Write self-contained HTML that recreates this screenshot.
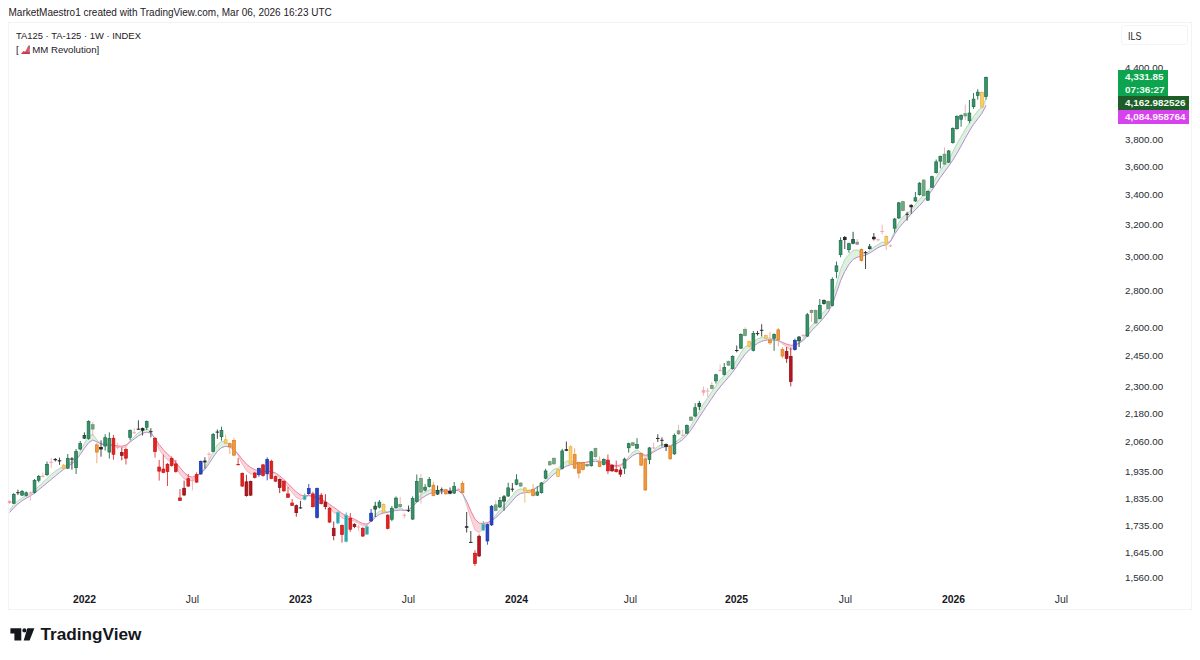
<!DOCTYPE html>
<html lang="en">
<head>
<meta charset="utf-8">
<title>TA125 chart</title>
<style>
html,body{margin:0;padding:0;background:#fff;}
body{width:1200px;height:660px;position:relative;overflow:hidden;font-family:"Liberation Sans",sans-serif;color:#1c1e26;}
.abs{position:absolute;white-space:nowrap;}
#hdr{left:8.5px;top:6.1px;font-size:10px;line-height:14px;color:#1e2026;}
#frame{left:8px;top:22px;width:1184px;height:588px;border:1px solid #f2f3f7;box-sizing:border-box;}
#leg1{left:16px;top:28.9px;font-size:9.8px;line-height:13px;color:#1e2026;transform:scaleX(0.96);transform-origin:0 0;}
#leg2{left:16px;top:42.9px;font-size:9.8px;line-height:13px;color:#1e2026;transform:scaleX(0.985);transform-origin:0 0;}
#ils{left:1121px;top:25px;width:67px;height:20px;border:1px solid #f3f4f7;border-radius:3px;box-sizing:border-box;font-size:10.2px;line-height:22.6px;padding-left:6.3px;color:#1c1e26;}
.pl{position:absolute;left:1125px;font-size:9.8px;line-height:14px;color:#2a2c33;white-space:nowrap;}
.tl{position:absolute;top:592.8px;width:60px;text-align:center;font-size:10.4px;line-height:14px;color:#2a2c33;white-space:nowrap;}
.tl.b{font-weight:bold;color:#15171d;}
.tag{position:absolute;left:1118px;color:#f2fff2;font-size:9.9px;font-weight:bold;box-sizing:border-box;padding-left:7px;white-space:nowrap;}
#tag1{top:70px;width:50px;height:26px;background:#0ca44e;line-height:12.5px;padding-top:1px;}
#tag2{top:96px;width:70.5px;height:13.5px;background:#1e5c28;line-height:13.5px;}
#tag3{top:109.5px;width:70.5px;height:14px;background:#d643ee;line-height:13.5px;color:#fff2ff;}
#logo{left:10px;top:628px;}
#tvtext{left:40.5px;top:622px;font-size:17.2px;line-height:24px;font-weight:bold;color:#15171d;letter-spacing:0px;}
svg{position:absolute;left:0;top:0;}
</style>
</head>
<body>
<div id="hdr" class="abs">MarketMaestro1 created with TradingView.com, Mar 06, 2026 16:23 UTC</div>
<div id="frame" class="abs"></div>
<svg width="1200" height="660" viewBox="0 0 1200 660">
<polygon points="9.6,510.02 13.75,504.77 17.91,500.75 22.06,497.72 26.22,495.74 30.38,493.89 34.53,490.49 38.69,486.28 42.84,482.57 47,478.38 51.15,474.57 55.31,471.13 59.46,468.44 63.62,466.75 67.77,463.94 71.92,461.67 76.08,458.1 80.23,451.01 84.39,443.4 88.55,436.71 92.7,434.25 96.86,439.91 101.01,443.53 105.17,443.84 109.32,444.27 113.47,445.65 113.47,445.25 109.32,444.9 105.17,444.71 101.01,444.03 96.86,441.74 92.7,440.08 88.55,442.8 84.39,448.37 80.23,454.59 76.08,460.19 71.92,463.71 67.77,466.51 63.62,469.4 59.46,472.64 55.31,476.06 51.15,479.49 47,482.92 42.84,486.36 38.69,489.78 34.53,493.07 30.38,495.89 26.22,498.24 22.06,500.72 17.91,503.95 13.75,507.77 9.6,512.52" fill="#dcf1de"/>
<polygon points="113.47,445.65 117.63,446.23 121.78,447.59 125.94,447 130.09,440.95 130.09,442.04 125.94,445.09 121.78,446.24 117.63,445.86 113.47,445.25" fill="#fbd5dc"/>
<polygon points="130.09,440.95 134.25,436.46 138.41,432.61 142.56,430.56 146.72,428.93 150.87,431.42 155.03,439.38 155.03,438.42 150.87,433.31 146.72,432.12 142.56,433.42 138.41,435.99 134.25,438.91 130.09,442.04" fill="#dcf1de"/>
<polygon points="155.03,439.38 159.18,449.41 163.34,455.34 167.49,460 171.65,462.12 175.8,466.05 179.96,474.21 184.11,478.89 188.27,480.55 192.42,480.43 196.58,477.48 200.73,472.46 200.73,473.1 196.58,475.58 192.42,477.21 188.27,476.06 184.11,472.54 179.96,467.59 175.8,462.46 171.65,457.97 167.49,454.03 163.34,449.89 159.18,444.56 155.03,438.42" fill="#fbd5dc"/>
<polygon points="200.73,472.46 204.89,467.55 209.04,460.36 213.19,451.65 217.35,444.82 221.5,441.23 225.66,441.77 229.81,444.63 233.97,448.66 238.12,455.45 238.12,454.03 233.97,449.61 229.81,447.01 225.66,446.34 221.5,447.64 217.35,451.35 213.19,457.07 209.04,463.6 204.89,469.57 200.73,473.1" fill="#dcf1de"/>
<polygon points="238.12,455.45 242.28,464.05 246.44,470.65 250.59,474.08 254.75,473.83 258.9,472.92 263.06,472.2 267.21,470.89 267.21,471.25 263.06,471.2 258.9,470.93 254.75,469.64 250.59,467.37 246.44,464.16 242.28,459.35 238.12,454.03" fill="#fbd5dc"/>
<polygon points="267.21,470.89 271.37,471.64 275.52,474.08 275.52,473.03 271.37,471.66 267.21,471.25" fill="#dcf1de"/>
<polygon points="275.52,474.08 279.68,477.97 283.83,482.06 287.99,487.04 292.14,492.43 296.3,497.39 300.45,499.56 304.61,498.2 308.76,495.77 312.92,497.2 317.07,498.32 321.23,500.08 325.38,502.61 329.54,507.34 333.69,512.54 337.85,513.82 342,518.17 346.16,519.01 350.31,519.94 354.47,521.28 358.62,523.36 362.78,526.02 366.93,525.73 371.09,520.9 371.09,521.52 366.93,524.06 362.78,523.67 358.62,521.46 354.47,519.13 350.31,517.36 346.16,515.66 342,513.41 337.85,510.23 333.69,507.22 329.54,504.37 325.38,501.43 321.23,499.23 317.07,497.56 312.92,496.11 308.76,495.43 304.61,495.75 300.45,495.02 296.3,491.94 292.14,487.95 287.99,483.68 283.83,479.39 279.68,475.72 275.52,473.03" fill="#fbd5dc"/>
<polygon points="371.09,520.9 375.24,515.14 379.4,510.97 383.55,510.46 387.71,512.02 391.86,510.56 396.02,508.2 400.17,507.72 404.33,509.87 408.48,509.66 412.64,505.54 416.79,498.75 420.95,494.48 425.1,492.22 429.26,489.73 433.41,490.02 437.57,490.49 441.72,490.77 445.88,490.96 450.03,490.67 454.19,489.8 458.34,490.13 462.5,493.26 466.65,505.15 466.65,501.06 462.5,493.67 458.34,490.62 454.19,490.45 450.03,490.89 445.88,491.34 441.72,491.75 437.57,492.04 433.41,492.38 429.26,493.75 425.1,496.06 420.95,498.77 416.79,502.28 412.64,506.57 408.48,510.18 404.33,510.43 400.17,510.08 396.02,510.46 391.86,511.3 387.71,512.24 383.55,513.11 379.4,514.36 375.24,517.47 371.09,521.52" fill="#dcf1de"/>
<polygon points="466.65,505.15 470.81,518.36 474.96,529.91 479.12,532.68 483.27,528.46 487.43,525.61 491.58,520.42 491.58,520.76 487.43,522.48 483.27,523.54 479.12,523.13 474.96,519.19 470.81,510.92 466.65,501.06" fill="#fbd5dc"/>
<polygon points="491.58,520.42 495.74,515.01 499.89,509.97 504.05,505.77 508.2,500.48 512.36,495.64 516.51,490.41 520.67,488.77 524.82,490.19 528.98,490.45 533.13,489.02 537.29,486.79 541.44,483.81 545.6,479.15 549.75,473.42 553.91,469.05 558.06,468.33 562.22,464.48 566.37,461.04 570.53,461.1 574.68,461.82 578.84,463.23 582.99,462.98 582.99,462.71 578.84,463.35 574.68,464 570.53,464.78 566.37,466.19 562.22,468.53 558.06,471.34 553.91,474.24 549.75,478.07 545.6,482.08 541.44,484.97 537.29,487.45 533.13,489.93 528.98,491.97 524.82,492.7 520.67,493.45 516.51,496.06 512.36,500.78 508.2,505.57 504.05,509.75 499.89,513.76 495.74,517.66 491.58,520.76" fill="#dcf1de"/>
<polygon points="582.99,462.98 587.15,462.15 591.3,460.42 591.3,461.5 587.15,462.06 582.99,462.71" fill="#fbd5dc"/>
<polygon points="591.3,460.42 595.46,459.22 599.61,460.92 603.77,461.84 607.92,463.79 607.92,463.29 603.77,462.25 599.61,461.65 595.46,461.32 591.3,461.5" fill="#dcf1de"/>
<polygon points="607.92,463.79 612.08,465.89 616.23,466.88 620.39,466.66 624.54,462.97 628.7,456.75 628.7,459.03 624.54,462.5 620.39,464.99 616.23,465.68 612.08,464.74 607.92,463.29" fill="#fbd5dc"/>
<polygon points="628.7,456.75 632.85,452 637.01,449.8 641.16,452.96 645.32,457.83 645.32,455.31 641.16,454 637.01,453.43 632.85,455.54 628.7,459.03" fill="#dcf1de"/>
<polygon points="645.32,457.83 649.47,454.64 653.63,450.56 653.63,452.03 649.47,454.31 645.32,455.31" fill="#fbd5dc"/>
<polygon points="653.63,450.56 657.78,446.38 661.94,444.48 666.09,444.66 670.25,445.59 674.4,443.28 678.56,439.59 682.71,436.7 686.87,432.03 691.02,425.6 695.18,418.27 699.33,411.31 703.49,403.7 707.64,397.8 711.8,391.66 715.95,385.46 720.11,379.65 724.26,375.34 728.42,370.9 732.57,366.38 736.73,359.96 740.88,352.74 745.04,346.64 749.19,344.71 753.35,341.84 757.5,338.95 761.66,337.14 765.81,337.48 769.97,338.32 774.12,339.1 778.28,339.99 782.43,343.84 782.43,342.35 778.28,340.68 774.12,339.98 769.97,339.83 765.81,340.22 761.66,341.34 757.5,343.34 753.35,346.44 749.19,350.11 745.04,354.46 740.88,360.02 736.73,366.39 732.57,372.32 728.42,377.39 724.26,382.07 720.11,386.99 715.95,392.38 711.8,398.3 707.64,404.53 703.49,410.8 699.33,417.15 695.18,423.69 691.02,429.93 686.87,435.3 682.71,439.58 678.56,442.56 674.4,444.58 670.25,445.89 666.09,446.67 661.94,447.53 657.78,449.48 653.63,452.03" fill="#dcf1de"/>
<polygon points="782.43,343.84 786.59,346.67 790.74,350 794.9,346.37 799.05,342.73 799.05,343.28 794.9,344.96 790.74,345.3 786.59,344.13 782.43,342.35" fill="#fbd5dc"/>
<polygon points="799.05,342.73 803.21,338.69 807.36,331.76 811.52,325.33 815.67,321.22 819.83,316.68 823.98,311.59 828.14,307.08 832.29,298.28 836.45,284.29 840.6,269.32 844.76,259.59 848.91,254.39 853.07,250.29 857.22,249.86 861.38,252.47 865.53,253.3 869.69,250.86 873.84,247.08 878,244.61 882.15,241.94 886.31,242.83 890.46,240.87 894.62,231.18 898.77,222.54 902.93,216.71 907.08,213.79 911.24,209.58 915.39,204.59 919.55,199.3 923.7,194.68 927.86,191.45 932.01,185.32 936.17,177.41 940.32,170.5 944.48,164.69 948.63,159.81 952.79,152.03 956.94,143.68 961.1,136.6 965.25,129.35 969.41,123.06 973.56,116.33 977.72,110.82 981.87,107.38 986.03,98.68 986.03,105.5 981.87,113.44 977.72,118.89 973.56,124.39 969.41,130.95 965.25,138.32 961.1,145.95 956.94,153.29 952.79,160.21 948.63,166.24 944.48,171.79 940.32,177.55 936.17,183.89 932.01,190.2 927.86,195.79 923.7,200.87 919.55,205.52 915.39,209.75 911.24,213.98 907.08,218.5 902.93,223.2 898.77,228.14 894.62,234.23 890.46,241.66 886.31,244.93 882.15,245.8 878,247.67 873.84,250.39 869.69,253.06 865.53,255.15 861.38,256.29 857.22,257.16 853.07,259.51 848.91,264.49 844.76,271.46 840.6,280.73 836.45,292.69 832.29,304.45 828.14,312.11 823.98,317.45 819.83,322.25 815.67,326.57 811.52,330.78 807.36,335.77 803.21,340.56 799.05,343.28" fill="#dcf1de"/>
<polyline points="9.6,510.02 13.75,504.77 17.91,500.75 22.06,497.72 26.22,495.74 30.38,493.89 34.53,490.49 38.69,486.28 42.84,482.57 47,478.38 51.15,474.57 55.31,471.13 59.46,468.44 63.62,466.75 67.77,463.94 71.92,461.67 76.08,458.1 80.23,451.01 84.39,443.4 88.55,436.71 92.7,434.25 96.86,439.91 101.01,443.53 105.17,443.84 109.32,444.27 113.47,445.65" fill="none" stroke="#a9cfae" stroke-width="0.8" stroke-opacity="1" stroke-linejoin="round"/>
<polyline points="9.6,512.52 13.75,507.77 17.91,503.95 22.06,500.72 26.22,498.24 30.38,495.89 34.53,493.07 38.69,489.78 42.84,486.36 47,482.92 51.15,479.49 55.31,476.06 59.46,472.64 63.62,469.4 67.77,466.51 71.92,463.71 76.08,460.19 80.23,454.59 84.39,448.37 88.55,442.8 92.7,440.08 96.86,441.74 101.01,444.03 105.17,444.71 109.32,444.9 113.47,445.25" fill="none" stroke="#b98ad8" stroke-width="1" stroke-opacity="1" stroke-linejoin="round"/>
<polyline points="113.47,445.65 117.63,446.23 121.78,447.59 125.94,447 130.09,440.95" fill="none" stroke="#f3a6b4" stroke-width="0.8" stroke-opacity="1" stroke-linejoin="round"/>
<polyline points="113.47,445.25 117.63,445.86 121.78,446.24 125.94,445.09 130.09,442.04" fill="none" stroke="#ee7f9c" stroke-width="1" stroke-opacity="1" stroke-linejoin="round"/>
<polyline points="130.09,440.95 134.25,436.46 138.41,432.61 142.56,430.56 146.72,428.93 150.87,431.42 155.03,439.38" fill="none" stroke="#a9cfae" stroke-width="0.8" stroke-opacity="1" stroke-linejoin="round"/>
<polyline points="130.09,442.04 134.25,438.91 138.41,435.99 142.56,433.42 146.72,432.12 150.87,433.31 155.03,438.42" fill="none" stroke="#b98ad8" stroke-width="1" stroke-opacity="1" stroke-linejoin="round"/>
<polyline points="155.03,439.38 159.18,449.41 163.34,455.34 167.49,460 171.65,462.12 175.8,466.05 179.96,474.21 184.11,478.89 188.27,480.55 192.42,480.43 196.58,477.48 200.73,472.46" fill="none" stroke="#f3a6b4" stroke-width="0.8" stroke-opacity="1" stroke-linejoin="round"/>
<polyline points="155.03,438.42 159.18,444.56 163.34,449.89 167.49,454.03 171.65,457.97 175.8,462.46 179.96,467.59 184.11,472.54 188.27,476.06 192.42,477.21 196.58,475.58 200.73,473.1" fill="none" stroke="#ee7f9c" stroke-width="1" stroke-opacity="1" stroke-linejoin="round"/>
<polyline points="200.73,472.46 204.89,467.55 209.04,460.36 213.19,451.65 217.35,444.82 221.5,441.23 225.66,441.77 229.81,444.63 233.97,448.66 238.12,455.45" fill="none" stroke="#a9cfae" stroke-width="0.8" stroke-opacity="1" stroke-linejoin="round"/>
<polyline points="200.73,473.1 204.89,469.57 209.04,463.6 213.19,457.07 217.35,451.35 221.5,447.64 225.66,446.34 229.81,447.01 233.97,449.61 238.12,454.03" fill="none" stroke="#b98ad8" stroke-width="1" stroke-opacity="1" stroke-linejoin="round"/>
<polyline points="238.12,455.45 242.28,464.05 246.44,470.65 250.59,474.08 254.75,473.83 258.9,472.92 263.06,472.2 267.21,470.89" fill="none" stroke="#f3a6b4" stroke-width="0.8" stroke-opacity="1" stroke-linejoin="round"/>
<polyline points="238.12,454.03 242.28,459.35 246.44,464.16 250.59,467.37 254.75,469.64 258.9,470.93 263.06,471.2 267.21,471.25" fill="none" stroke="#ee7f9c" stroke-width="1" stroke-opacity="1" stroke-linejoin="round"/>
<polyline points="267.21,470.89 271.37,471.64 275.52,474.08" fill="none" stroke="#a9cfae" stroke-width="0.8" stroke-opacity="1" stroke-linejoin="round"/>
<polyline points="267.21,471.25 271.37,471.66 275.52,473.03" fill="none" stroke="#b98ad8" stroke-width="1" stroke-opacity="1" stroke-linejoin="round"/>
<polyline points="275.52,474.08 279.68,477.97 283.83,482.06 287.99,487.04 292.14,492.43 296.3,497.39 300.45,499.56 304.61,498.2 308.76,495.77 312.92,497.2 317.07,498.32 321.23,500.08 325.38,502.61 329.54,507.34 333.69,512.54 337.85,513.82 342,518.17 346.16,519.01 350.31,519.94 354.47,521.28 358.62,523.36 362.78,526.02 366.93,525.73 371.09,520.9" fill="none" stroke="#f3a6b4" stroke-width="0.8" stroke-opacity="1" stroke-linejoin="round"/>
<polyline points="275.52,473.03 279.68,475.72 283.83,479.39 287.99,483.68 292.14,487.95 296.3,491.94 300.45,495.02 304.61,495.75 308.76,495.43 312.92,496.11 317.07,497.56 321.23,499.23 325.38,501.43 329.54,504.37 333.69,507.22 337.85,510.23 342,513.41 346.16,515.66 350.31,517.36 354.47,519.13 358.62,521.46 362.78,523.67 366.93,524.06 371.09,521.52" fill="none" stroke="#ee7f9c" stroke-width="1" stroke-opacity="1" stroke-linejoin="round"/>
<polyline points="371.09,520.9 375.24,515.14 379.4,510.97 383.55,510.46 387.71,512.02 391.86,510.56 396.02,508.2 400.17,507.72 404.33,509.87 408.48,509.66 412.64,505.54 416.79,498.75 420.95,494.48 425.1,492.22 429.26,489.73 433.41,490.02 437.57,490.49 441.72,490.77 445.88,490.96 450.03,490.67 454.19,489.8 458.34,490.13 462.5,493.26 466.65,505.15" fill="none" stroke="#a9cfae" stroke-width="0.8" stroke-opacity="1" stroke-linejoin="round"/>
<polyline points="371.09,521.52 375.24,517.47 379.4,514.36 383.55,513.11 387.71,512.24 391.86,511.3 396.02,510.46 400.17,510.08 404.33,510.43 408.48,510.18 412.64,506.57 416.79,502.28 420.95,498.77 425.1,496.06 429.26,493.75 433.41,492.38 437.57,492.04 441.72,491.75 445.88,491.34 450.03,490.89 454.19,490.45 458.34,490.62 462.5,493.67 466.65,501.06" fill="none" stroke="#b98ad8" stroke-width="1" stroke-opacity="1" stroke-linejoin="round"/>
<polyline points="466.65,505.15 470.81,518.36 474.96,529.91 479.12,532.68 483.27,528.46 487.43,525.61 491.58,520.42" fill="none" stroke="#f3a6b4" stroke-width="0.8" stroke-opacity="1" stroke-linejoin="round"/>
<polyline points="466.65,501.06 470.81,510.92 474.96,519.19 479.12,523.13 483.27,523.54 487.43,522.48 491.58,520.76" fill="none" stroke="#ee7f9c" stroke-width="1" stroke-opacity="1" stroke-linejoin="round"/>
<polyline points="491.58,520.42 495.74,515.01 499.89,509.97 504.05,505.77 508.2,500.48 512.36,495.64 516.51,490.41 520.67,488.77 524.82,490.19 528.98,490.45 533.13,489.02 537.29,486.79 541.44,483.81 545.6,479.15 549.75,473.42 553.91,469.05 558.06,468.33 562.22,464.48 566.37,461.04 570.53,461.1 574.68,461.82 578.84,463.23 582.99,462.98" fill="none" stroke="#a9cfae" stroke-width="0.8" stroke-opacity="1" stroke-linejoin="round"/>
<polyline points="491.58,520.76 495.74,517.66 499.89,513.76 504.05,509.75 508.2,505.57 512.36,500.78 516.51,496.06 520.67,493.45 524.82,492.7 528.98,491.97 533.13,489.93 537.29,487.45 541.44,484.97 545.6,482.08 549.75,478.07 553.91,474.24 558.06,471.34 562.22,468.53 566.37,466.19 570.53,464.78 574.68,464 578.84,463.35 582.99,462.71" fill="none" stroke="#b98ad8" stroke-width="1" stroke-opacity="1" stroke-linejoin="round"/>
<polyline points="582.99,462.98 587.15,462.15 591.3,460.42" fill="none" stroke="#f3a6b4" stroke-width="0.8" stroke-opacity="1" stroke-linejoin="round"/>
<polyline points="582.99,462.71 587.15,462.06 591.3,461.5" fill="none" stroke="#ee7f9c" stroke-width="1" stroke-opacity="1" stroke-linejoin="round"/>
<polyline points="591.3,460.42 595.46,459.22 599.61,460.92 603.77,461.84 607.92,463.79" fill="none" stroke="#a9cfae" stroke-width="0.8" stroke-opacity="1" stroke-linejoin="round"/>
<polyline points="591.3,461.5 595.46,461.32 599.61,461.65 603.77,462.25 607.92,463.29" fill="none" stroke="#b98ad8" stroke-width="1" stroke-opacity="1" stroke-linejoin="round"/>
<polyline points="607.92,463.79 612.08,465.89 616.23,466.88 620.39,466.66 624.54,462.97 628.7,456.75" fill="none" stroke="#f3a6b4" stroke-width="0.8" stroke-opacity="1" stroke-linejoin="round"/>
<polyline points="607.92,463.29 612.08,464.74 616.23,465.68 620.39,464.99 624.54,462.5 628.7,459.03" fill="none" stroke="#ee7f9c" stroke-width="1" stroke-opacity="1" stroke-linejoin="round"/>
<polyline points="628.7,456.75 632.85,452 637.01,449.8 641.16,452.96 645.32,457.83" fill="none" stroke="#a9cfae" stroke-width="0.8" stroke-opacity="1" stroke-linejoin="round"/>
<polyline points="628.7,459.03 632.85,455.54 637.01,453.43 641.16,454 645.32,455.31" fill="none" stroke="#b98ad8" stroke-width="1" stroke-opacity="1" stroke-linejoin="round"/>
<polyline points="645.32,457.83 649.47,454.64 653.63,450.56" fill="none" stroke="#f3a6b4" stroke-width="0.8" stroke-opacity="1" stroke-linejoin="round"/>
<polyline points="645.32,455.31 649.47,454.31 653.63,452.03" fill="none" stroke="#ee7f9c" stroke-width="1" stroke-opacity="1" stroke-linejoin="round"/>
<polyline points="653.63,450.56 657.78,446.38 661.94,444.48 666.09,444.66 670.25,445.59 674.4,443.28 678.56,439.59 682.71,436.7 686.87,432.03 691.02,425.6 695.18,418.27 699.33,411.31 703.49,403.7 707.64,397.8 711.8,391.66 715.95,385.46 720.11,379.65 724.26,375.34 728.42,370.9 732.57,366.38 736.73,359.96 740.88,352.74 745.04,346.64 749.19,344.71 753.35,341.84 757.5,338.95 761.66,337.14 765.81,337.48 769.97,338.32 774.12,339.1 778.28,339.99 782.43,343.84" fill="none" stroke="#a9cfae" stroke-width="0.8" stroke-opacity="1" stroke-linejoin="round"/>
<polyline points="653.63,452.03 657.78,449.48 661.94,447.53 666.09,446.67 670.25,445.89 674.4,444.58 678.56,442.56 682.71,439.58 686.87,435.3 691.02,429.93 695.18,423.69 699.33,417.15 703.49,410.8 707.64,404.53 711.8,398.3 715.95,392.38 720.11,386.99 724.26,382.07 728.42,377.39 732.57,372.32 736.73,366.39 740.88,360.02 745.04,354.46 749.19,350.11 753.35,346.44 757.5,343.34 761.66,341.34 765.81,340.22 769.97,339.83 774.12,339.98 778.28,340.68 782.43,342.35" fill="none" stroke="#b98ad8" stroke-width="1" stroke-opacity="1" stroke-linejoin="round"/>
<polyline points="782.43,343.84 786.59,346.67 790.74,350 794.9,346.37 799.05,342.73" fill="none" stroke="#f3a6b4" stroke-width="0.8" stroke-opacity="1" stroke-linejoin="round"/>
<polyline points="782.43,342.35 786.59,344.13 790.74,345.3 794.9,344.96 799.05,343.28" fill="none" stroke="#ee7f9c" stroke-width="1" stroke-opacity="1" stroke-linejoin="round"/>
<polyline points="799.05,342.73 803.21,338.69 807.36,331.76 811.52,325.33 815.67,321.22 819.83,316.68 823.98,311.59 828.14,307.08 832.29,298.28 836.45,284.29 840.6,269.32 844.76,259.59 848.91,254.39 853.07,250.29 857.22,249.86 861.38,252.47 865.53,253.3 869.69,250.86 873.84,247.08 878,244.61 882.15,241.94 886.31,242.83 890.46,240.87 894.62,231.18 898.77,222.54 902.93,216.71 907.08,213.79 911.24,209.58 915.39,204.59 919.55,199.3 923.7,194.68 927.86,191.45 932.01,185.32 936.17,177.41 940.32,170.5 944.48,164.69 948.63,159.81 952.79,152.03 956.94,143.68 961.1,136.6 965.25,129.35 969.41,123.06 973.56,116.33 977.72,110.82 981.87,107.38 986.03,98.68" fill="none" stroke="#a9cfae" stroke-width="0.8" stroke-opacity="1" stroke-linejoin="round"/>
<polyline points="799.05,343.28 803.21,340.56 807.36,335.77 811.52,330.78 815.67,326.57 819.83,322.25 823.98,317.45 828.14,312.11 832.29,304.45 836.45,292.69 840.6,280.73 844.76,271.46 848.91,264.49 853.07,259.51 857.22,257.16 861.38,256.29 865.53,255.15 869.69,253.06 873.84,250.39 878,247.67 882.15,245.8 886.31,244.93 890.46,241.66 894.62,234.23 898.77,228.14 902.93,223.2 907.08,218.5 911.24,213.98 915.39,209.75 919.55,205.52 923.7,200.87 927.86,195.79 932.01,190.2 936.17,183.89 940.32,177.55 944.48,171.79 948.63,166.24 952.79,160.21 956.94,153.29 961.1,145.95 965.25,138.32 969.41,130.95 973.56,124.39 977.72,118.89 981.87,113.44 986.03,105.5" fill="none" stroke="#b98ad8" stroke-width="1" stroke-opacity="1" stroke-linejoin="round"/>
<rect x="9.1" y="500" width="1" height="4" fill="#f5b4bc"/>
<rect x="7.85" y="501" width="3.5" height="2" fill="#f3a3ad"/>
<rect x="13.25" y="493" width="1" height="11" fill="#2c7d59"/>
<rect x="12.35" y="494.35" width="2.8" height="8.9" fill="#379169" stroke="#1f6c4a" stroke-width="0.7"/>
<rect x="17.41" y="489.7" width="1" height="5.3" fill="#484848"/>
<rect x="16.16" y="492.2" width="3.5" height="1" fill="#2a2a2a"/>
<rect x="21.56" y="490" width="1" height="6" fill="#2c7d59"/>
<rect x="20.66" y="491.35" width="2.8" height="3.8" fill="#379169" stroke="#1f6c4a" stroke-width="0.7"/>
<rect x="25.72" y="491.5" width="1" height="5" fill="#2c7d59"/>
<rect x="24.82" y="492.75" width="2.8" height="2.7" fill="#379169" stroke="#1f6c4a" stroke-width="0.7"/>
<rect x="29.88" y="491.5" width="1" height="9.1" fill="#f5b4bc"/>
<rect x="28.62" y="492.3" width="3.5" height="1" fill="#f3a3ad"/>
<rect x="34.03" y="479" width="1" height="14.5" fill="#2c7d59"/>
<rect x="33.13" y="480.35" width="2.8" height="12" fill="#379169" stroke="#1f6c4a" stroke-width="0.7"/>
<rect x="38.19" y="475" width="1" height="7.4" fill="#2c7d59"/>
<rect x="37.29" y="476.35" width="2.8" height="3.9" fill="#379169" stroke="#1f6c4a" stroke-width="0.7"/>
<rect x="42.34" y="472.7" width="1" height="4.8" fill="#f5b4bc"/>
<rect x="41.09" y="475.9" width="3.5" height="1" fill="#f3a3ad"/>
<rect x="46.5" y="461.6" width="1" height="14.4" fill="#2c7d59"/>
<rect x="45.6" y="464.35" width="2.8" height="10.3" fill="#379169" stroke="#1f6c4a" stroke-width="0.7"/>
<rect x="50.65" y="458" width="1" height="10" fill="#f5b4bc"/>
<rect x="49.4" y="461.8" width="3.5" height="1" fill="#f3a3ad"/>
<rect x="54.81" y="458" width="1" height="3.5" fill="#484848"/>
<rect x="53.56" y="459" width="3.5" height="1.2" fill="#2a2a2a"/>
<rect x="58.96" y="457.6" width="1" height="7.2" fill="#484848"/>
<rect x="57.71" y="460.2" width="3.5" height="1.2" fill="#2a2a2a"/>
<rect x="63.12" y="464" width="1" height="5" fill="#f0c078"/>
<rect x="62.22" y="465.15" width="2.8" height="3" fill="#f9cf6a" stroke="#e9ad3c" stroke-width="0.7"/>
<rect x="67.27" y="454" width="1" height="15" fill="#2c7d59"/>
<rect x="66.37" y="458.35" width="2.8" height="9.8" fill="#379169" stroke="#1f6c4a" stroke-width="0.7"/>
<rect x="71.42" y="457" width="1" height="12.7" fill="#484848"/>
<rect x="70.17" y="458.5" width="3.5" height="1.2" fill="#2a2a2a"/>
<rect x="75.58" y="449" width="1" height="25" fill="#2c7d59"/>
<rect x="74.68" y="451.35" width="2.8" height="16.3" fill="#379169" stroke="#1f6c4a" stroke-width="0.7"/>
<rect x="79.73" y="441" width="1" height="9" fill="#2c7d59"/>
<rect x="78.83" y="443.35" width="2.8" height="5.7" fill="#379169" stroke="#1f6c4a" stroke-width="0.7"/>
<rect x="83.89" y="432.4" width="1" height="6.6" fill="#1f5a40"/>
<rect x="82.99" y="435.55" width="2.8" height="2.6" fill="#27704f" stroke="#163f2d" stroke-width="0.7"/>
<rect x="88.05" y="420.3" width="1" height="19.4" fill="#2c7d59"/>
<rect x="87.14" y="421.35" width="2.8" height="17.1" fill="#379169" stroke="#1f6c4a" stroke-width="0.7"/>
<rect x="92.2" y="422" width="1" height="14" fill="#eeb0b8"/>
<rect x="91.3" y="424.65" width="2.8" height="4.4" fill="#73a77f" stroke="#5f9470" stroke-width="0.7"/>
<rect x="96.36" y="442.7" width="1" height="20.6" fill="#f2ad78"/>
<rect x="95.45" y="444.85" width="2.8" height="7.2" fill="#f2973f" stroke="#d87a22" stroke-width="0.7"/>
<rect x="100.51" y="440.3" width="1" height="16.4" fill="#484848"/>
<rect x="99.61" y="447.35" width="2.8" height="1.7" fill="#2a2a2a" stroke="#1a1a1a" stroke-width="0.7"/>
<rect x="104.67" y="434.2" width="1" height="16.4" fill="#2c7d59"/>
<rect x="103.77" y="437.65" width="2.8" height="8.4" fill="#379169" stroke="#1f6c4a" stroke-width="0.7"/>
<rect x="108.82" y="432.4" width="1" height="26.1" fill="#2c7d59"/>
<rect x="107.92" y="438.45" width="2.8" height="13.6" fill="#379169" stroke="#1f6c4a" stroke-width="0.7"/>
<rect x="112.97" y="434.8" width="1" height="24.9" fill="#e8494c"/>
<rect x="112.07" y="438.25" width="2.8" height="16" fill="#e52222" stroke="#c21414" stroke-width="0.7"/>
<rect x="117.13" y="442.7" width="1" height="6.7" fill="#f5b4bc"/>
<rect x="115.88" y="446.4" width="3.5" height="1.4" fill="#f3a3ad"/>
<rect x="121.28" y="447.6" width="1" height="12.7" fill="#b5343a"/>
<rect x="120.38" y="452.55" width="2.8" height="2.9" fill="#b5161d" stroke="#8a0e14" stroke-width="0.7"/>
<rect x="125.44" y="447.6" width="1" height="16.9" fill="#e8494c"/>
<rect x="124.54" y="449.35" width="2.8" height="8.8" fill="#e52222" stroke="#c21414" stroke-width="0.7"/>
<rect x="129.59" y="429.4" width="1" height="10.9" fill="#2c7d59"/>
<rect x="128.69" y="430.35" width="2.8" height="7.2" fill="#379169" stroke="#1f6c4a" stroke-width="0.7"/>
<rect x="133.75" y="428.2" width="1" height="5.4" fill="#f5b4bc"/>
<rect x="132.5" y="432.3" width="3.5" height="1" fill="#f3a3ad"/>
<rect x="137.91" y="420.3" width="1" height="9.7" fill="#484848"/>
<rect x="136.66" y="428.7" width="3.5" height="1" fill="#2a2a2a"/>
<rect x="142.06" y="427.5" width="1" height="8" fill="#484848"/>
<rect x="141.16" y="428.55" width="2.8" height="1.7" fill="#2a2a2a" stroke="#1a1a1a" stroke-width="0.7"/>
<rect x="146.22" y="420.5" width="1" height="9.5" fill="#2c7d59"/>
<rect x="145.31" y="421.55" width="2.8" height="5.7" fill="#379169" stroke="#1f6c4a" stroke-width="0.7"/>
<rect x="150.37" y="428.2" width="1" height="9.1" fill="#484848"/>
<rect x="149.12" y="431.2" width="3.5" height="1" fill="#2a2a2a"/>
<rect x="154.53" y="437" width="1" height="20.6" fill="#e8494c"/>
<rect x="153.62" y="438.35" width="2.8" height="13.1" fill="#e52222" stroke="#c21414" stroke-width="0.7"/>
<rect x="158.68" y="460" width="1" height="20.6" fill="#e8494c"/>
<rect x="157.78" y="467.05" width="2.8" height="4.1" fill="#e52222" stroke="#c21414" stroke-width="0.7"/>
<rect x="162.84" y="454.5" width="1" height="18.8" fill="#e8494c"/>
<rect x="161.94" y="469.05" width="2.8" height="3.3" fill="#e52222" stroke="#c21414" stroke-width="0.7"/>
<rect x="166.99" y="463" width="1" height="23" fill="#e8494c"/>
<rect x="166.09" y="464.25" width="2.8" height="7.3" fill="#e52222" stroke="#c21414" stroke-width="0.7"/>
<rect x="171.15" y="456.4" width="1" height="10.3" fill="#e8494c"/>
<rect x="170.25" y="458.55" width="2.8" height="6.9" fill="#e52222" stroke="#c21414" stroke-width="0.7"/>
<rect x="175.3" y="460" width="1" height="12.7" fill="#e8494c"/>
<rect x="174.4" y="463.95" width="2.8" height="7.6" fill="#e52222" stroke="#c21414" stroke-width="0.7"/>
<rect x="179.46" y="489" width="1" height="12" fill="#e8494c"/>
<rect x="178.56" y="497.95" width="2.8" height="2.5" fill="#e52222" stroke="#c21414" stroke-width="0.7"/>
<rect x="183.61" y="480.6" width="1" height="15.2" fill="#b5343a"/>
<rect x="182.71" y="488.25" width="2.8" height="6.8" fill="#b5161d" stroke="#8a0e14" stroke-width="0.7"/>
<rect x="187.77" y="474" width="1" height="13" fill="#e8494c"/>
<rect x="186.87" y="478.75" width="2.8" height="7.3" fill="#e52222" stroke="#c21414" stroke-width="0.7"/>
<rect x="191.92" y="477" width="1" height="13.3" fill="#f5b4bc"/>
<rect x="190.67" y="480.1" width="3.5" height="1" fill="#f3a3ad"/>
<rect x="196.08" y="472.4" width="1" height="10.6" fill="#e8494c"/>
<rect x="195.18" y="474.65" width="2.8" height="7.4" fill="#e52222" stroke="#c21414" stroke-width="0.7"/>
<rect x="200.23" y="460.5" width="1" height="14.3" fill="#3a58cc"/>
<rect x="199.33" y="461.35" width="2.8" height="12.6" fill="#2648c8" stroke="#18329a" stroke-width="0.7"/>
<rect x="204.39" y="457.3" width="1" height="11.2" fill="#484848"/>
<rect x="203.14" y="460.6" width="3.5" height="1.8" fill="#2a2a2a"/>
<rect x="208.54" y="452.1" width="1" height="8.5" fill="#f5b4bc"/>
<rect x="207.29" y="453.8" width="3.5" height="1" fill="#f3a3ad"/>
<rect x="212.69" y="433" width="1" height="19.2" fill="#2c7d59"/>
<rect x="211.79" y="434.35" width="2.8" height="17.1" fill="#379169" stroke="#1f6c4a" stroke-width="0.7"/>
<rect x="216.85" y="429.5" width="1" height="9.3" fill="#484848"/>
<rect x="215.6" y="431.6" width="3.5" height="1" fill="#2a2a2a"/>
<rect x="221" y="426.7" width="1" height="13.9" fill="#2c7d59"/>
<rect x="220.1" y="430.35" width="2.8" height="6.3" fill="#379169" stroke="#1f6c4a" stroke-width="0.7"/>
<rect x="225.16" y="434.5" width="1" height="9.7" fill="#f0c078"/>
<rect x="224.26" y="439.75" width="2.8" height="3.5" fill="#f9cf6a" stroke="#e9ad3c" stroke-width="0.7"/>
<rect x="229.31" y="442.5" width="1" height="11.5" fill="#f2ad78"/>
<rect x="228.41" y="443.65" width="2.8" height="3.2" fill="#f2973f" stroke="#d87a22" stroke-width="0.7"/>
<rect x="233.47" y="437.9" width="1" height="18.1" fill="#f2ad78"/>
<rect x="232.57" y="440.35" width="2.8" height="14.8" fill="#f2973f" stroke="#d87a22" stroke-width="0.7"/>
<rect x="237.62" y="457.9" width="1" height="7.4" fill="#e8494c"/>
<rect x="236.38" y="464.1" width="3.5" height="1" fill="#c21414"/>
<rect x="241.78" y="472.4" width="1" height="14.6" fill="#e8494c"/>
<rect x="240.88" y="473.35" width="2.8" height="12.7" fill="#e52222" stroke="#c21414" stroke-width="0.7"/>
<rect x="245.94" y="474.8" width="1" height="21.9" fill="#b5343a"/>
<rect x="245.03" y="481.85" width="2.8" height="13.8" fill="#b5161d" stroke="#8a0e14" stroke-width="0.7"/>
<rect x="250.09" y="480.6" width="1" height="15.4" fill="#b5343a"/>
<rect x="249.19" y="481.55" width="2.8" height="13.6" fill="#b5161d" stroke="#8a0e14" stroke-width="0.7"/>
<rect x="254.25" y="471.8" width="1" height="6.7" fill="#e8494c"/>
<rect x="253.34" y="473.05" width="2.8" height="4.5" fill="#e52222" stroke="#c21414" stroke-width="0.7"/>
<rect x="258.4" y="467.6" width="1" height="9.1" fill="#3a58cc"/>
<rect x="257.5" y="468.55" width="2.8" height="6.2" fill="#2648c8" stroke="#18329a" stroke-width="0.7"/>
<rect x="262.56" y="463.9" width="1" height="12.8" fill="#e8494c"/>
<rect x="261.66" y="464.85" width="2.8" height="10.6" fill="#e52222" stroke="#c21414" stroke-width="0.7"/>
<rect x="266.71" y="457.3" width="1" height="23" fill="#3a58cc"/>
<rect x="265.81" y="459.45" width="2.8" height="14.4" fill="#2648c8" stroke="#18329a" stroke-width="0.7"/>
<rect x="270.87" y="459.7" width="1" height="19.4" fill="#e8494c"/>
<rect x="269.97" y="461.25" width="2.8" height="17.1" fill="#e52222" stroke="#c21414" stroke-width="0.7"/>
<rect x="275.02" y="475.5" width="1" height="6.6" fill="#e8494c"/>
<rect x="274.12" y="476.65" width="2.8" height="4.5" fill="#e52222" stroke="#c21414" stroke-width="0.7"/>
<rect x="279.18" y="478.5" width="1" height="14.5" fill="#b5343a"/>
<rect x="278.28" y="479.45" width="2.8" height="8.1" fill="#b5161d" stroke="#8a0e14" stroke-width="0.7"/>
<rect x="283.33" y="480.3" width="1" height="11.5" fill="#e8494c"/>
<rect x="282.43" y="481.25" width="2.8" height="9.6" fill="#e52222" stroke="#c21414" stroke-width="0.7"/>
<rect x="287.49" y="487" width="1" height="10.9" fill="#e8494c"/>
<rect x="286.59" y="493.95" width="2.8" height="3.3" fill="#e52222" stroke="#c21414" stroke-width="0.7"/>
<rect x="291.64" y="499" width="1" height="7" fill="#e8494c"/>
<rect x="290.74" y="503.05" width="2.8" height="2.4" fill="#e52222" stroke="#c21414" stroke-width="0.7"/>
<rect x="295.8" y="504.5" width="1" height="12.2" fill="#b5343a"/>
<rect x="294.9" y="505.65" width="2.8" height="7" fill="#b5161d" stroke="#8a0e14" stroke-width="0.7"/>
<rect x="299.95" y="500.9" width="1" height="7.9" fill="#484848"/>
<rect x="298.7" y="507.4" width="3.5" height="1" fill="#2a2a2a"/>
<rect x="304.11" y="493.6" width="1" height="6.7" fill="#48bcc6"/>
<rect x="303.21" y="495.85" width="2.8" height="3.5" fill="#3f9f98" stroke="#45c8d6" stroke-width="0.7"/>
<rect x="308.26" y="484" width="1" height="10.8" fill="#3a58cc"/>
<rect x="307.36" y="488.55" width="2.8" height="5.1" fill="#2648c8" stroke="#18329a" stroke-width="0.7"/>
<rect x="312.42" y="491.8" width="1" height="15.8" fill="#e8494c"/>
<rect x="311.52" y="493.95" width="2.8" height="12.7" fill="#e52222" stroke="#c21414" stroke-width="0.7"/>
<rect x="316.57" y="487.5" width="1" height="31" fill="#3a58cc"/>
<rect x="315.67" y="488.55" width="2.8" height="29" fill="#2648c8" stroke="#18329a" stroke-width="0.7"/>
<rect x="320.73" y="493" width="1" height="11.5" fill="#e8494c"/>
<rect x="319.83" y="495.15" width="2.8" height="8.5" fill="#e52222" stroke="#c21414" stroke-width="0.7"/>
<rect x="324.88" y="494.2" width="1" height="15.2" fill="#b5343a"/>
<rect x="323.98" y="502.15" width="2.8" height="4.5" fill="#b5161d" stroke="#8a0e14" stroke-width="0.7"/>
<rect x="329.04" y="507" width="1" height="16" fill="#e8494c"/>
<rect x="328.14" y="508.15" width="2.8" height="13.9" fill="#e52222" stroke="#c21414" stroke-width="0.7"/>
<rect x="333.19" y="521.5" width="1" height="18.8" fill="#b5343a"/>
<rect x="332.29" y="528.25" width="2.8" height="7.4" fill="#b5161d" stroke="#8a0e14" stroke-width="0.7"/>
<rect x="337.35" y="511.5" width="1" height="12.5" fill="#48bcc6"/>
<rect x="336.45" y="512.55" width="2.8" height="10.4" fill="#3f9f98" stroke="#45c8d6" stroke-width="0.7"/>
<rect x="341.5" y="524.5" width="1" height="18.2" fill="#e8494c"/>
<rect x="340.6" y="525.55" width="2.8" height="8.9" fill="#e52222" stroke="#c21414" stroke-width="0.7"/>
<rect x="345.66" y="512.4" width="1" height="30" fill="#48bcc6"/>
<rect x="344.76" y="515.15" width="2.8" height="26.3" fill="#3f9f98" stroke="#45c8d6" stroke-width="0.7"/>
<rect x="349.81" y="513" width="1" height="18.8" fill="#e8494c"/>
<rect x="348.91" y="518.25" width="2.8" height="11" fill="#e52222" stroke="#c21414" stroke-width="0.7"/>
<rect x="353.97" y="523.3" width="1" height="4.9" fill="#b5343a"/>
<rect x="353.07" y="524.25" width="2.8" height="2.4" fill="#b5161d" stroke="#8a0e14" stroke-width="0.7"/>
<rect x="358.12" y="524.5" width="1" height="6.7" fill="#f5b4bc"/>
<rect x="356.87" y="526.5" width="3.5" height="1" fill="#f3a3ad"/>
<rect x="362.28" y="527.3" width="1" height="9.7" fill="#e8494c"/>
<rect x="361.38" y="528.25" width="2.8" height="7.8" fill="#e52222" stroke="#c21414" stroke-width="0.7"/>
<rect x="366.43" y="525.2" width="1" height="9.8" fill="#48bcc6"/>
<rect x="365.53" y="526.75" width="2.8" height="7.4" fill="#3f9f98" stroke="#45c8d6" stroke-width="0.7"/>
<rect x="370.59" y="508.9" width="1" height="13.1" fill="#3a58cc"/>
<rect x="369.69" y="513.15" width="2.8" height="7.8" fill="#2648c8" stroke="#18329a" stroke-width="0.7"/>
<rect x="374.74" y="501.8" width="1" height="15.2" fill="#1f5a40"/>
<rect x="373.84" y="506.15" width="2.8" height="3" fill="#27704f" stroke="#163f2d" stroke-width="0.7"/>
<rect x="378.9" y="500" width="1" height="8.5" fill="#2c7d59"/>
<rect x="378" y="502.15" width="2.8" height="5" fill="#379169" stroke="#1f6c4a" stroke-width="0.7"/>
<rect x="383.05" y="503.5" width="1" height="9.8" fill="#f0c078"/>
<rect x="382.15" y="504.55" width="2.8" height="7.8" fill="#f9cf6a" stroke="#e9ad3c" stroke-width="0.7"/>
<rect x="387.21" y="514.2" width="1" height="15.2" fill="#e8494c"/>
<rect x="386.31" y="515.15" width="2.8" height="13.3" fill="#e52222" stroke="#c21414" stroke-width="0.7"/>
<rect x="391.36" y="506" width="1" height="15.2" fill="#2c7d59"/>
<rect x="390.46" y="508.55" width="2.8" height="10.7" fill="#379169" stroke="#1f6c4a" stroke-width="0.7"/>
<rect x="395.52" y="496.4" width="1" height="12.1" fill="#2c7d59"/>
<rect x="394.62" y="498.15" width="2.8" height="9.4" fill="#379169" stroke="#1f6c4a" stroke-width="0.7"/>
<rect x="399.67" y="497" width="1" height="11.5" fill="#eeb0b8"/>
<rect x="398.77" y="504.55" width="2.8" height="2.1" fill="#73a77f" stroke="#5f9470" stroke-width="0.7"/>
<rect x="403.83" y="513.3" width="1" height="4.9" fill="#f5b4bc"/>
<rect x="402.58" y="514.7" width="3.5" height="1" fill="#f3a3ad"/>
<rect x="407.98" y="505.5" width="1" height="6.5" fill="#484848"/>
<rect x="406.73" y="510.2" width="3.5" height="1" fill="#2a2a2a"/>
<rect x="412.14" y="496.4" width="1" height="23.6" fill="#2c7d59"/>
<rect x="411.24" y="498.55" width="2.8" height="20.5" fill="#379169" stroke="#1f6c4a" stroke-width="0.7"/>
<rect x="416.29" y="474.5" width="1" height="27.9" fill="#2c7d59"/>
<rect x="415.39" y="481.55" width="2.8" height="19.9" fill="#379169" stroke="#1f6c4a" stroke-width="0.7"/>
<rect x="420.45" y="474" width="1" height="29.6" fill="#eeb0b8"/>
<rect x="419.55" y="478.55" width="2.8" height="13.6" fill="#73a77f" stroke="#5f9470" stroke-width="0.7"/>
<rect x="424.6" y="484.2" width="1" height="7.3" fill="#2c7d59"/>
<rect x="423.7" y="487.25" width="2.8" height="2.9" fill="#379169" stroke="#1f6c4a" stroke-width="0.7"/>
<rect x="428.76" y="477" width="1" height="10.5" fill="#2c7d59"/>
<rect x="427.86" y="479.55" width="2.8" height="7" fill="#379169" stroke="#1f6c4a" stroke-width="0.7"/>
<rect x="432.91" y="481.8" width="1" height="14.6" fill="#f2ad78"/>
<rect x="432.01" y="485.15" width="2.8" height="10.3" fill="#f2973f" stroke="#d87a22" stroke-width="0.7"/>
<rect x="437.07" y="485.5" width="1" height="9.5" fill="#1f5a40"/>
<rect x="436.17" y="490.35" width="2.8" height="3.7" fill="#27704f" stroke="#163f2d" stroke-width="0.7"/>
<rect x="441.22" y="487.5" width="1" height="6.7" fill="#484848"/>
<rect x="439.97" y="489.3" width="3.5" height="1" fill="#2a2a2a"/>
<rect x="445.38" y="488.8" width="1" height="6" fill="#f2ad78"/>
<rect x="444.48" y="489.75" width="2.8" height="4.1" fill="#f2973f" stroke="#d87a22" stroke-width="0.7"/>
<rect x="449.53" y="487.5" width="1" height="6.8" fill="#484848"/>
<rect x="448.63" y="491.55" width="2.8" height="1.7" fill="#2a2a2a" stroke="#1a1a1a" stroke-width="0.7"/>
<rect x="453.69" y="482" width="1" height="12" fill="#2c7d59"/>
<rect x="452.79" y="486.45" width="2.8" height="6.6" fill="#379169" stroke="#1f6c4a" stroke-width="0.7"/>
<rect x="457.84" y="488" width="1" height="3" fill="#f5b4bc"/>
<rect x="456.59" y="488.9" width="3.5" height="1.3" fill="#f3a3ad"/>
<rect x="462" y="480.7" width="1" height="12.9" fill="#f2ad78"/>
<rect x="461.1" y="483.35" width="2.8" height="9.3" fill="#f2973f" stroke="#d87a22" stroke-width="0.7"/>
<rect x="466.15" y="512" width="1" height="20.5" fill="#484848"/>
<rect x="464.9" y="526.2" width="3.5" height="1.6" fill="#2a2a2a"/>
<rect x="470.31" y="531" width="1" height="12" fill="#484848"/>
<rect x="469.06" y="541.9" width="3.5" height="1" fill="#2a2a2a"/>
<rect x="474.46" y="550.2" width="1" height="15.7" fill="#e8494c"/>
<rect x="473.56" y="553.25" width="2.8" height="10.2" fill="#e52222" stroke="#c21414" stroke-width="0.7"/>
<rect x="478.62" y="534.5" width="1" height="22.5" fill="#b5343a"/>
<rect x="477.72" y="536.25" width="2.8" height="19.7" fill="#b5161d" stroke="#8a0e14" stroke-width="0.7"/>
<rect x="482.77" y="521" width="1" height="10" fill="#48bcc6"/>
<rect x="481.87" y="524.25" width="2.8" height="5.8" fill="#3f9f98" stroke="#45c8d6" stroke-width="0.7"/>
<rect x="486.93" y="523.5" width="1" height="21.2" fill="#3a58cc"/>
<rect x="486.03" y="524.65" width="2.8" height="16.3" fill="#2648c8" stroke="#18329a" stroke-width="0.7"/>
<rect x="491.08" y="505" width="1" height="21" fill="#3a58cc"/>
<rect x="490.18" y="506.25" width="2.8" height="18.6" fill="#2648c8" stroke="#18329a" stroke-width="0.7"/>
<rect x="495.24" y="500.4" width="1" height="10.9" fill="#eeb0b8"/>
<rect x="494.34" y="504.85" width="2.8" height="5.5" fill="#73a77f" stroke="#5f9470" stroke-width="0.7"/>
<rect x="499.39" y="497" width="1" height="11" fill="#2c7d59"/>
<rect x="498.49" y="500.55" width="2.8" height="6.4" fill="#379169" stroke="#1f6c4a" stroke-width="0.7"/>
<rect x="503.55" y="495" width="1" height="15.7" fill="#1f5a40"/>
<rect x="502.65" y="496.75" width="2.8" height="4.4" fill="#27704f" stroke="#163f2d" stroke-width="0.7"/>
<rect x="507.7" y="482.7" width="1" height="14.3" fill="#2c7d59"/>
<rect x="506.8" y="487.85" width="2.8" height="8.2" fill="#379169" stroke="#1f6c4a" stroke-width="0.7"/>
<rect x="511.86" y="483" width="1" height="8.8" fill="#484848"/>
<rect x="510.61" y="488.7" width="3.5" height="1" fill="#2a2a2a"/>
<rect x="516.01" y="474.2" width="1" height="11" fill="#2c7d59"/>
<rect x="515.11" y="479.85" width="2.8" height="4.4" fill="#379169" stroke="#1f6c4a" stroke-width="0.7"/>
<rect x="520.17" y="482" width="1" height="5" fill="#eeb0b8"/>
<rect x="519.27" y="483.05" width="2.8" height="3" fill="#73a77f" stroke="#5f9470" stroke-width="0.7"/>
<rect x="524.32" y="487" width="1" height="15.7" fill="#f0c078"/>
<rect x="523.42" y="487.95" width="2.8" height="2.9" fill="#f9cf6a" stroke="#e9ad3c" stroke-width="0.7"/>
<rect x="528.48" y="489.4" width="1" height="4.2" fill="#f0c078"/>
<rect x="527.58" y="490.35" width="2.8" height="2.3" fill="#f9cf6a" stroke="#e9ad3c" stroke-width="0.7"/>
<rect x="532.63" y="484" width="1" height="12.6" fill="#f2ad78"/>
<rect x="531.73" y="489.55" width="2.8" height="6.1" fill="#f2973f" stroke="#d87a22" stroke-width="0.7"/>
<rect x="536.79" y="486.4" width="1" height="9.6" fill="#2c7d59"/>
<rect x="535.89" y="491.95" width="2.8" height="3.2" fill="#379169" stroke="#1f6c4a" stroke-width="0.7"/>
<rect x="540.94" y="482" width="1" height="11.6" fill="#2c7d59"/>
<rect x="540.04" y="483.05" width="2.8" height="9.6" fill="#379169" stroke="#1f6c4a" stroke-width="0.7"/>
<rect x="545.1" y="468.8" width="1" height="10.2" fill="#2c7d59"/>
<rect x="544.2" y="470.95" width="2.8" height="7.2" fill="#379169" stroke="#1f6c4a" stroke-width="0.7"/>
<rect x="549.25" y="460.7" width="1" height="5.1" fill="#eeb0b8"/>
<rect x="548.35" y="461.65" width="2.8" height="3.2" fill="#73a77f" stroke="#5f9470" stroke-width="0.7"/>
<rect x="553.41" y="457.3" width="1" height="7.5" fill="#eeb0b8"/>
<rect x="552.51" y="458.25" width="2.8" height="5.6" fill="#73a77f" stroke="#5f9470" stroke-width="0.7"/>
<rect x="557.56" y="468.8" width="1" height="8.5" fill="#f0c078"/>
<rect x="556.66" y="469.75" width="2.8" height="6.6" fill="#f9cf6a" stroke="#e9ad3c" stroke-width="0.7"/>
<rect x="561.72" y="448.8" width="1" height="20.6" fill="#2c7d59"/>
<rect x="560.82" y="450.95" width="2.8" height="17.5" fill="#379169" stroke="#1f6c4a" stroke-width="0.7"/>
<rect x="565.87" y="441.5" width="1" height="9.7" fill="#484848"/>
<rect x="564.62" y="449.2" width="3.5" height="1.6" fill="#2a2a2a"/>
<rect x="570.03" y="445.2" width="1" height="19.8" fill="#f0c078"/>
<rect x="569.13" y="446.75" width="2.8" height="17.4" fill="#f9cf6a" stroke="#e9ad3c" stroke-width="0.7"/>
<rect x="574.18" y="448.2" width="1" height="20.8" fill="#f2ad78"/>
<rect x="573.28" y="454.55" width="2.8" height="13.6" fill="#f2973f" stroke="#d87a22" stroke-width="0.7"/>
<rect x="578.34" y="461.5" width="1" height="17" fill="#f2ad78"/>
<rect x="577.44" y="462.45" width="2.8" height="10.6" fill="#f2973f" stroke="#d87a22" stroke-width="0.7"/>
<rect x="582.49" y="461.7" width="1" height="8.7" fill="#f2ad78"/>
<rect x="581.59" y="462.65" width="2.8" height="6.8" fill="#f2973f" stroke="#d87a22" stroke-width="0.7"/>
<rect x="586.65" y="463.4" width="1" height="3.6" fill="#eeb0b8"/>
<rect x="585.75" y="464.35" width="2.8" height="1.6" fill="#73a77f" stroke="#5f9470" stroke-width="0.7"/>
<rect x="590.8" y="450.9" width="1" height="15.7" fill="#2c7d59"/>
<rect x="589.9" y="451.85" width="2.8" height="13.8" fill="#379169" stroke="#1f6c4a" stroke-width="0.7"/>
<rect x="594.96" y="447.5" width="1" height="10.7" fill="#eeb0b8"/>
<rect x="594.06" y="448.45" width="2.8" height="8.2" fill="#73a77f" stroke="#5f9470" stroke-width="0.7"/>
<rect x="599.11" y="456.4" width="1" height="10.9" fill="#f2ad78"/>
<rect x="598.21" y="462.15" width="2.8" height="4.2" fill="#f2973f" stroke="#d87a22" stroke-width="0.7"/>
<rect x="603.27" y="458.4" width="1" height="7" fill="#2c7d59"/>
<rect x="602.37" y="459.35" width="2.8" height="5.1" fill="#379169" stroke="#1f6c4a" stroke-width="0.7"/>
<rect x="607.42" y="454.5" width="1" height="19.5" fill="#e8494c"/>
<rect x="606.52" y="460.15" width="2.8" height="10.7" fill="#e52222" stroke="#c21414" stroke-width="0.7"/>
<rect x="611.58" y="464.4" width="1" height="7.4" fill="#b5343a"/>
<rect x="610.68" y="465.35" width="2.8" height="5.5" fill="#b5161d" stroke="#8a0e14" stroke-width="0.7"/>
<rect x="615.73" y="460.6" width="1" height="12" fill="#e8494c"/>
<rect x="614.83" y="469.35" width="2.8" height="2.3" fill="#e52222" stroke="#c21414" stroke-width="0.7"/>
<rect x="619.89" y="467.3" width="1" height="9.7" fill="#b5343a"/>
<rect x="618.99" y="470.05" width="2.8" height="4.1" fill="#b5161d" stroke="#8a0e14" stroke-width="0.7"/>
<rect x="624.04" y="457.6" width="1" height="16.4" fill="#2c7d59"/>
<rect x="623.14" y="459.15" width="2.8" height="9" fill="#379169" stroke="#1f6c4a" stroke-width="0.7"/>
<rect x="628.2" y="442.7" width="1" height="10" fill="#2c7d59"/>
<rect x="627.3" y="443.65" width="2.8" height="4.1" fill="#379169" stroke="#1f6c4a" stroke-width="0.7"/>
<rect x="632.35" y="441.8" width="1" height="4.5" fill="#eeb0b8"/>
<rect x="631.45" y="442.75" width="2.8" height="2.6" fill="#73a77f" stroke="#5f9470" stroke-width="0.7"/>
<rect x="636.51" y="438.2" width="1" height="10.8" fill="#2c7d59"/>
<rect x="635.61" y="444.55" width="2.8" height="3.6" fill="#379169" stroke="#1f6c4a" stroke-width="0.7"/>
<rect x="640.66" y="452.4" width="1" height="13.6" fill="#f2ad78"/>
<rect x="639.76" y="453.35" width="2.8" height="11.8" fill="#f2973f" stroke="#d87a22" stroke-width="0.7"/>
<rect x="644.82" y="457.9" width="1" height="33.1" fill="#f2ad78"/>
<rect x="643.92" y="458.85" width="2.8" height="31.1" fill="#f2973f" stroke="#d87a22" stroke-width="0.7"/>
<rect x="648.97" y="447" width="1" height="17.2" fill="#2c7d59"/>
<rect x="648.07" y="447.95" width="2.8" height="11.5" fill="#379169" stroke="#1f6c4a" stroke-width="0.7"/>
<rect x="653.13" y="442.4" width="1" height="6.6" fill="#f5b4bc"/>
<rect x="651.88" y="447.4" width="3.5" height="1" fill="#f3a3ad"/>
<rect x="657.28" y="434.3" width="1" height="7.7" fill="#484848"/>
<rect x="656.03" y="437.95" width="3.5" height="1" fill="#2a2a2a"/>
<rect x="661.44" y="437.3" width="1" height="9.1" fill="#484848"/>
<rect x="660.19" y="439.8" width="3.5" height="1" fill="#2a2a2a"/>
<rect x="665.59" y="443.4" width="1" height="7.6" fill="#484848"/>
<rect x="664.69" y="444.35" width="2.8" height="2.3" fill="#2a2a2a" stroke="#1a1a1a" stroke-width="0.7"/>
<rect x="669.75" y="445.4" width="1" height="14.4" fill="#f2ad78"/>
<rect x="668.85" y="446.35" width="2.8" height="12.5" fill="#f2973f" stroke="#d87a22" stroke-width="0.7"/>
<rect x="673.9" y="433.5" width="1" height="21.3" fill="#2c7d59"/>
<rect x="673" y="435.35" width="2.8" height="18.5" fill="#379169" stroke="#1f6c4a" stroke-width="0.7"/>
<rect x="678.06" y="425" width="1" height="10" fill="#eeb0b8"/>
<rect x="677.16" y="430.85" width="2.8" height="3" fill="#73a77f" stroke="#5f9470" stroke-width="0.7"/>
<rect x="682.21" y="429.7" width="1" height="6.8" fill="#f5b4bc"/>
<rect x="680.96" y="434.8" width="3.5" height="1" fill="#f3a3ad"/>
<rect x="686.37" y="424.5" width="1" height="9.5" fill="#2c7d59"/>
<rect x="685.47" y="425.55" width="2.8" height="7.6" fill="#379169" stroke="#1f6c4a" stroke-width="0.7"/>
<rect x="690.52" y="416" width="1" height="5.2" fill="#eeb0b8"/>
<rect x="689.62" y="417.15" width="2.8" height="3.1" fill="#73a77f" stroke="#5f9470" stroke-width="0.7"/>
<rect x="694.68" y="403.2" width="1" height="13.8" fill="#2c7d59"/>
<rect x="693.78" y="407.65" width="2.8" height="8.4" fill="#379169" stroke="#1f6c4a" stroke-width="0.7"/>
<rect x="698.83" y="400.9" width="1" height="9.1" fill="#1f5a40"/>
<rect x="697.93" y="403.55" width="2.8" height="2.8" fill="#27704f" stroke="#163f2d" stroke-width="0.7"/>
<rect x="702.99" y="386.5" width="1" height="9.1" fill="#f5b4bc"/>
<rect x="702.09" y="390.35" width="2.8" height="1.9" fill="#f3a3ad" stroke="#f3a3ad" stroke-width="0.7"/>
<rect x="707.14" y="388" width="1" height="9" fill="#f5b4bc"/>
<rect x="705.89" y="390.5" width="3.5" height="1" fill="#f3a3ad"/>
<rect x="711.3" y="382" width="1" height="7.5" fill="#eeb0b8"/>
<rect x="710.4" y="385.35" width="2.8" height="3.1" fill="#73a77f" stroke="#5f9470" stroke-width="0.7"/>
<rect x="715.45" y="373.8" width="1" height="9.7" fill="#2c7d59"/>
<rect x="714.55" y="374.75" width="2.8" height="6.1" fill="#379169" stroke="#1f6c4a" stroke-width="0.7"/>
<rect x="719.61" y="364.5" width="1" height="6.9" fill="#f5b4bc"/>
<rect x="718.36" y="370.1" width="3.5" height="1" fill="#f3a3ad"/>
<rect x="723.76" y="363" width="1" height="12.4" fill="#2c7d59"/>
<rect x="722.86" y="367.65" width="2.8" height="6.8" fill="#379169" stroke="#1f6c4a" stroke-width="0.7"/>
<rect x="727.92" y="360.4" width="1" height="5.6" fill="#eeb0b8"/>
<rect x="727.02" y="361.35" width="2.8" height="3.8" fill="#73a77f" stroke="#5f9470" stroke-width="0.7"/>
<rect x="732.07" y="355.4" width="1" height="14.2" fill="#2c7d59"/>
<rect x="731.17" y="356.35" width="2.8" height="12.3" fill="#379169" stroke="#1f6c4a" stroke-width="0.7"/>
<rect x="736.23" y="345.5" width="1" height="6.8" fill="#484848"/>
<rect x="734.98" y="350" width="3.5" height="1" fill="#2a2a2a"/>
<rect x="740.38" y="333.4" width="1" height="15.6" fill="#2c7d59"/>
<rect x="739.48" y="334.35" width="2.8" height="13.8" fill="#379169" stroke="#1f6c4a" stroke-width="0.7"/>
<rect x="744.54" y="327.3" width="1" height="9.3" fill="#eeb0b8"/>
<rect x="743.64" y="329.35" width="2.8" height="6.3" fill="#73a77f" stroke="#5f9470" stroke-width="0.7"/>
<rect x="748.69" y="340.6" width="1" height="6.7" fill="#f0c078"/>
<rect x="747.79" y="341.55" width="2.8" height="4.8" fill="#f9cf6a" stroke="#e9ad3c" stroke-width="0.7"/>
<rect x="752.85" y="331" width="1" height="20.4" fill="#2c7d59"/>
<rect x="751.95" y="333.35" width="2.8" height="17.1" fill="#379169" stroke="#1f6c4a" stroke-width="0.7"/>
<rect x="757" y="331" width="1" height="4.6" fill="#484848"/>
<rect x="755.75" y="333.1" width="3.5" height="1" fill="#2a2a2a"/>
<rect x="761.16" y="324.2" width="1" height="12.2" fill="#484848"/>
<rect x="759.91" y="329.8" width="3.5" height="1" fill="#2a2a2a"/>
<rect x="765.31" y="334.6" width="1" height="4.6" fill="#f0c078"/>
<rect x="764.41" y="335.55" width="2.8" height="2.7" fill="#f9cf6a" stroke="#e9ad3c" stroke-width="0.7"/>
<rect x="769.47" y="331.8" width="1" height="12.9" fill="#f2ad78"/>
<rect x="768.57" y="340.05" width="2.8" height="2.8" fill="#f2973f" stroke="#d87a22" stroke-width="0.7"/>
<rect x="773.62" y="333.4" width="1" height="17.4" fill="#2c7d59"/>
<rect x="772.72" y="334.35" width="2.8" height="3.9" fill="#379169" stroke="#1f6c4a" stroke-width="0.7"/>
<rect x="777.78" y="328" width="1" height="18.2" fill="#f2ad78"/>
<rect x="776.88" y="329.85" width="2.8" height="10" fill="#f2973f" stroke="#d87a22" stroke-width="0.7"/>
<rect x="781.93" y="347" width="1" height="11.3" fill="#f2ad78"/>
<rect x="781.03" y="349.55" width="2.8" height="6.5" fill="#f2973f" stroke="#d87a22" stroke-width="0.7"/>
<rect x="786.09" y="347" width="1" height="15.9" fill="#b5343a"/>
<rect x="785.19" y="351.55" width="2.8" height="6.9" fill="#b5161d" stroke="#8a0e14" stroke-width="0.7"/>
<rect x="790.24" y="347.7" width="1" height="38.7" fill="#b5343a"/>
<rect x="789.34" y="356.35" width="2.8" height="25.1" fill="#b5161d" stroke="#8a0e14" stroke-width="0.7"/>
<rect x="794.4" y="338.6" width="1" height="12" fill="#3a58cc"/>
<rect x="793.5" y="340.55" width="2.8" height="9.1" fill="#2648c8" stroke="#18329a" stroke-width="0.7"/>
<rect x="798.55" y="336" width="1" height="11" fill="#1f5a40"/>
<rect x="797.65" y="337.05" width="2.8" height="3.8" fill="#27704f" stroke="#163f2d" stroke-width="0.7"/>
<rect x="802.71" y="334" width="1" height="3" fill="#f5b4bc"/>
<rect x="801.46" y="335.1" width="3.5" height="1" fill="#f3a3ad"/>
<rect x="806.86" y="313" width="1" height="24" fill="#2c7d59"/>
<rect x="805.96" y="314.75" width="2.8" height="21.3" fill="#379169" stroke="#1f6c4a" stroke-width="0.7"/>
<rect x="811.02" y="309.4" width="1" height="12.4" fill="#eeb0b8"/>
<rect x="810.12" y="310.35" width="2.8" height="2.3" fill="#73a77f" stroke="#5f9470" stroke-width="0.7"/>
<rect x="815.17" y="309.4" width="1" height="14.6" fill="#eeb0b8"/>
<rect x="814.27" y="310.35" width="2.8" height="12.6" fill="#73a77f" stroke="#5f9470" stroke-width="0.7"/>
<rect x="819.33" y="299" width="1" height="20.3" fill="#2c7d59"/>
<rect x="818.43" y="305.35" width="2.8" height="13" fill="#379169" stroke="#1f6c4a" stroke-width="0.7"/>
<rect x="823.48" y="299.4" width="1" height="5.2" fill="#1f5a40"/>
<rect x="822.58" y="300.35" width="2.8" height="3.3" fill="#27704f" stroke="#163f2d" stroke-width="0.7"/>
<rect x="827.64" y="300.4" width="1" height="9.2" fill="#eeb0b8"/>
<rect x="826.74" y="301.35" width="2.8" height="7.3" fill="#73a77f" stroke="#5f9470" stroke-width="0.7"/>
<rect x="831.79" y="277.3" width="1" height="29.1" fill="#2c7d59"/>
<rect x="830.89" y="279.35" width="2.8" height="26.1" fill="#379169" stroke="#1f6c4a" stroke-width="0.7"/>
<rect x="835.95" y="261.5" width="1" height="16.7" fill="#2c7d59"/>
<rect x="835.05" y="265.85" width="2.8" height="5.6" fill="#379169" stroke="#1f6c4a" stroke-width="0.7"/>
<rect x="840.1" y="237.3" width="1" height="20" fill="#2c7d59"/>
<rect x="839.2" y="240.35" width="2.8" height="14.3" fill="#379169" stroke="#1f6c4a" stroke-width="0.7"/>
<rect x="844.26" y="236" width="1" height="13" fill="#484848"/>
<rect x="843.36" y="237.35" width="2.8" height="2.3" fill="#2a2a2a" stroke="#1a1a1a" stroke-width="0.7"/>
<rect x="848.41" y="242.7" width="1" height="10" fill="#2c7d59"/>
<rect x="847.51" y="243.65" width="2.8" height="6" fill="#379169" stroke="#1f6c4a" stroke-width="0.7"/>
<rect x="852.57" y="231.8" width="1" height="12.4" fill="#1f5a40"/>
<rect x="851.67" y="239.35" width="2.8" height="3.9" fill="#27704f" stroke="#163f2d" stroke-width="0.7"/>
<rect x="856.72" y="239" width="1" height="6" fill="#c9c4c4"/>
<rect x="855.82" y="242.15" width="2.8" height="2.1" fill="#8f8f8f" stroke="#8f8f8f" stroke-width="0.7"/>
<rect x="860.88" y="248.4" width="1" height="13.2" fill="#f2ad78"/>
<rect x="859.98" y="249.35" width="2.8" height="11.3" fill="#f2973f" stroke="#d87a22" stroke-width="0.7"/>
<rect x="865.03" y="251" width="1" height="18" fill="#484848"/>
<rect x="863.78" y="252.2" width="3.5" height="1" fill="#2a2a2a"/>
<rect x="869.19" y="244" width="1" height="5.6" fill="#1f5a40"/>
<rect x="868.29" y="246.75" width="2.8" height="1.9" fill="#27704f" stroke="#163f2d" stroke-width="0.7"/>
<rect x="873.34" y="233" width="1" height="7.5" fill="#484848"/>
<rect x="872.44" y="237.15" width="2.8" height="1.7" fill="#2a2a2a" stroke="#1a1a1a" stroke-width="0.7"/>
<rect x="877.5" y="238.5" width="1" height="3" fill="#f5b4bc"/>
<rect x="876.25" y="239.3" width="3.5" height="1" fill="#f3a3ad"/>
<rect x="881.65" y="224.6" width="1" height="9.8" fill="#f5b4bc"/>
<rect x="880.4" y="231" width="3.5" height="1" fill="#f3a3ad"/>
<rect x="885.81" y="235.4" width="1" height="14.6" fill="#f0c078"/>
<rect x="884.91" y="236.35" width="2.8" height="7.6" fill="#f9cf6a" stroke="#e9ad3c" stroke-width="0.7"/>
<rect x="889.96" y="244.5" width="1" height="2.5" fill="#f5b4bc"/>
<rect x="888.71" y="245.4" width="3.5" height="1" fill="#f3a3ad"/>
<rect x="894.12" y="218" width="1" height="14.5" fill="#2c7d59"/>
<rect x="893.22" y="219.05" width="2.8" height="9.1" fill="#379169" stroke="#1f6c4a" stroke-width="0.7"/>
<rect x="898.27" y="201.9" width="1" height="17.1" fill="#2c7d59"/>
<rect x="897.37" y="202.85" width="2.8" height="15.1" fill="#379169" stroke="#1f6c4a" stroke-width="0.7"/>
<rect x="902.43" y="200.7" width="1" height="10.7" fill="#eeb0b8"/>
<rect x="901.53" y="201.65" width="2.8" height="8.8" fill="#73a77f" stroke="#5f9470" stroke-width="0.7"/>
<rect x="906.58" y="211.8" width="1" height="8.8" fill="#484848"/>
<rect x="905.33" y="213.8" width="3.5" height="1" fill="#2a2a2a"/>
<rect x="910.74" y="204.3" width="1" height="9.4" fill="#484848"/>
<rect x="909.84" y="205.25" width="2.8" height="1.6" fill="#2a2a2a" stroke="#1a1a1a" stroke-width="0.7"/>
<rect x="914.89" y="192" width="1" height="10" fill="#2c7d59"/>
<rect x="913.99" y="197.75" width="2.8" height="3.2" fill="#379169" stroke="#1f6c4a" stroke-width="0.7"/>
<rect x="919.05" y="182.2" width="1" height="13.4" fill="#2c7d59"/>
<rect x="918.15" y="183.15" width="2.8" height="11.5" fill="#379169" stroke="#1f6c4a" stroke-width="0.7"/>
<rect x="923.2" y="179" width="1" height="17.6" fill="#eeb0b8"/>
<rect x="922.3" y="180.05" width="2.8" height="15.6" fill="#73a77f" stroke="#5f9470" stroke-width="0.7"/>
<rect x="927.36" y="190.4" width="1" height="10.6" fill="#2c7d59"/>
<rect x="926.46" y="191.35" width="2.8" height="8.8" fill="#379169" stroke="#1f6c4a" stroke-width="0.7"/>
<rect x="931.51" y="175.7" width="1" height="12.3" fill="#2c7d59"/>
<rect x="930.61" y="176.65" width="2.8" height="10.5" fill="#379169" stroke="#1f6c4a" stroke-width="0.7"/>
<rect x="935.67" y="159.5" width="1" height="14.1" fill="#2c7d59"/>
<rect x="934.77" y="161.85" width="2.8" height="10.8" fill="#379169" stroke="#1f6c4a" stroke-width="0.7"/>
<rect x="939.82" y="155.6" width="1" height="12.8" fill="#2c7d59"/>
<rect x="938.92" y="156.55" width="2.8" height="4.6" fill="#379169" stroke="#1f6c4a" stroke-width="0.7"/>
<rect x="943.98" y="147.3" width="1" height="17.7" fill="#eeb0b8"/>
<rect x="943.08" y="154.15" width="2.8" height="10" fill="#73a77f" stroke="#5f9470" stroke-width="0.7"/>
<rect x="948.13" y="150" width="1" height="13" fill="#2c7d59"/>
<rect x="947.23" y="150.95" width="2.8" height="11.2" fill="#379169" stroke="#1f6c4a" stroke-width="0.7"/>
<rect x="952.29" y="127.4" width="1" height="16.2" fill="#2c7d59"/>
<rect x="951.39" y="128.35" width="2.8" height="14.3" fill="#379169" stroke="#1f6c4a" stroke-width="0.7"/>
<rect x="956.44" y="115.4" width="1" height="14.2" fill="#2c7d59"/>
<rect x="955.54" y="116.35" width="2.8" height="12.3" fill="#379169" stroke="#1f6c4a" stroke-width="0.7"/>
<rect x="960.6" y="114.4" width="1" height="12.3" fill="#2c7d59"/>
<rect x="959.7" y="115.35" width="2.8" height="3.9" fill="#379169" stroke="#1f6c4a" stroke-width="0.7"/>
<rect x="964.75" y="104.6" width="1" height="15.4" fill="#eeb0b8"/>
<rect x="963.85" y="113.65" width="2.8" height="2.3" fill="#73a77f" stroke="#5f9470" stroke-width="0.7"/>
<rect x="968.91" y="100" width="1" height="23.3" fill="#2c7d59"/>
<rect x="968.01" y="113.05" width="2.8" height="7.6" fill="#379169" stroke="#1f6c4a" stroke-width="0.7"/>
<rect x="973.06" y="93" width="1" height="15.8" fill="#2c7d59"/>
<rect x="972.16" y="99.15" width="2.8" height="7.5" fill="#379169" stroke="#1f6c4a" stroke-width="0.7"/>
<rect x="977.22" y="89.2" width="1" height="10.4" fill="#2c7d59"/>
<rect x="976.32" y="92.15" width="2.8" height="3.2" fill="#379169" stroke="#1f6c4a" stroke-width="0.7"/>
<rect x="981.37" y="91.4" width="1" height="16.6" fill="#f0c078"/>
<rect x="980.47" y="92.35" width="2.8" height="14.8" fill="#f9cf6a" stroke="#e9ad3c" stroke-width="0.7"/>
<rect x="985.53" y="76.5" width="1" height="23.1" fill="#2c7d59"/>
<rect x="984.63" y="77.45" width="2.8" height="19" fill="#379169" stroke="#1f6c4a" stroke-width="0.7"/>
</svg>
<div id="leg1" class="abs">TA125 · TA-125 · 1W · INDEX</div>
<div id="leg2" class="abs">[ <svg style="position:relative;vertical-align:-1.2px;margin:0 2.2px 0 -0.6px" width="9.4" height="9.4" viewBox="0 0 9 9"><path d="M0 8.7 L2.6 5.5 L4 6.5 L7.5 0.6 L8.9 0.5 L9 8.8 L0.3 8.8 Z" fill="#d65a6e"/><path d="M6.2 2.8 L7.5 0.5 L8.9 0.4 L8.95 3.4 Z" fill="#8d7678"/><path d="M0.2 8.8 L2.2 7 L9 6.9 L9 8.8 Z" fill="#c23a52"/></svg>MM Revolution]</div>
<div id="ils" class="abs"><span style="display:inline-block;transform:scaleX(0.87);transform-origin:0 50%">ILS</span></div>
<div class="pl" style="top:61.3px">4,400.00</div>
<div class="pl" style="top:133.4px">3,800.00</div>
<div class="pl" style="top:160.1px">3,600.00</div>
<div class="pl" style="top:188.1px">3,400.00</div>
<div class="pl" style="top:218.2px">3,200.00</div>
<div class="pl" style="top:249.6px">3,000.00</div>
<div class="pl" style="top:284px">2,800.00</div>
<div class="pl" style="top:320.5px">2,600.00</div>
<div class="pl" style="top:348.9px">2,450.00</div>
<div class="pl" style="top:380.4px">2,300.00</div>
<div class="pl" style="top:406.9px">2,180.00</div>
<div class="pl" style="top:434.9px">2,060.00</div>
<div class="pl" style="top:464.6px">1,935.00</div>
<div class="pl" style="top:491.8px">1,835.00</div>
<div class="pl" style="top:519px">1,735.00</div>
<div class="pl" style="top:545.7px">1,645.00</div>
<div class="pl" style="top:571.3px">1,560.00</div>

<div id="tag1" class="tag">4,331.85<br>07:36:27</div>
<div id="tag2" class="tag">4,162.982526</div>
<div id="tag3" class="tag">4,084.958764</div>
<div class="tl b" style="left:54.5px">2022</div>
<div class="tl" style="left:162.5px">Jul</div>
<div class="tl b" style="left:270.5px">2023</div>
<div class="tl" style="left:378.5px">Jul</div>
<div class="tl b" style="left:486.5px">2024</div>
<div class="tl" style="left:600.5px">Jul</div>
<div class="tl b" style="left:706.5px">2025</div>
<div class="tl" style="left:815.5px">Jul</div>
<div class="tl b" style="left:923.5px">2026</div>
<div class="tl" style="left:1031.5px">Jul</div>

<svg id="logo" class="abs" style="left:10px;top:628.3px" width="26" height="13" viewBox="0 0 26 13"><path d="M0.4 0.3 H11.3 V12.6 H4.4 V5.4 H0.4 Z" fill="#15171d"/><circle cx="14.4" cy="2.4" r="2.05" fill="#15171d"/><path d="M17.3 0.3 H24.4 L19.6 12.6 H13.7 Z" fill="#15171d"/></svg>
<div id="tvtext" class="abs">TradingView</div>
</body>
</html>
